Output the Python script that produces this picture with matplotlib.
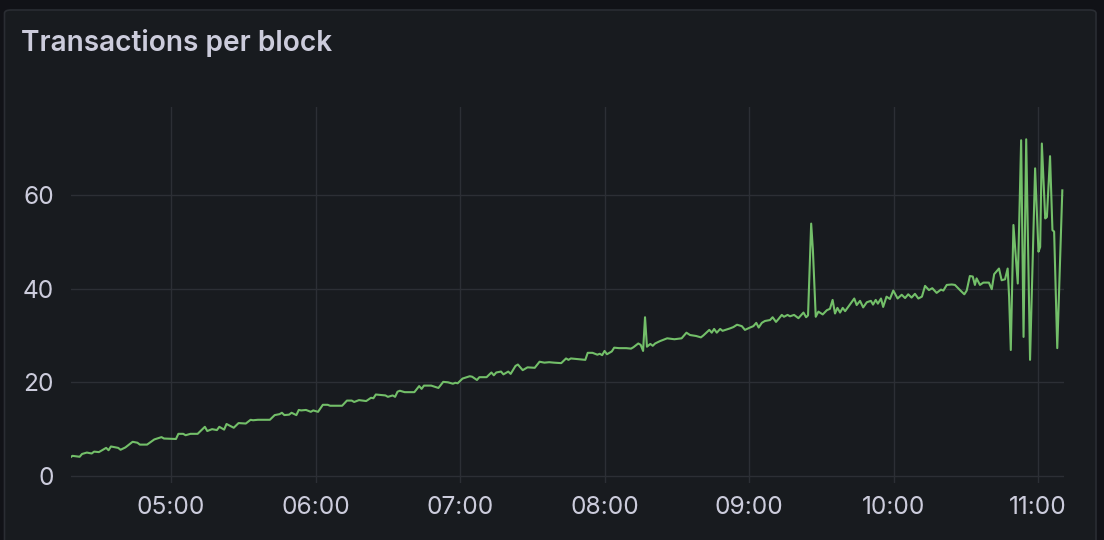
import matplotlib
matplotlib.use("Agg")
import matplotlib.pyplot as plt
from matplotlib.patches import FancyBboxPatch
from datetime import datetime, timedelta

# ---- data ----
title = "Transactions per block"
times = [
    "04:18", "04:19", "04:22", "04:23", "04:25", "04:27", "04:28", "04:30", "04:33", "04:34",
    "04:35", "04:38", "04:39", "04:41", "04:44", "04:46", "04:47", "04:50", "04:53", "04:56",
    "04:57", "05:02", "05:03", "05:05", "05:06", "05:08", "05:11", "05:14", "05:15", "05:17",
    "05:19", "05:20", "05:22", "05:23", "05:26", "05:28", "05:31", "05:33", "05:34", "05:36",
    "05:41", "05:43", "05:45", "05:46", "05:47", "05:49", "05:50", "05:52", "05:53", "05:54",
    "05:56", "05:58", "05:59", "06:01", "06:03", "06:05", "06:06", "06:11", "06:13", "06:15",
    "06:16", "06:18", "06:21", "06:23", "06:24", "06:25", "06:29", "06:30", "06:32", "06:33",
    "06:34", "06:35", "06:37", "06:41", "06:43", "06:44", "06:45", "06:48", "06:51", "06:53",
    "06:55", "06:57", "06:58", "06:59", "07:01", "07:04", "07:05", "07:07", "07:08", "07:11",
    "07:13", "07:14", "07:15", "07:17", "07:18", "07:20", "07:21", "07:23", "07:24", "07:26",
    "07:28", "07:31", "07:33", "07:35", "07:37", "07:39", "07:42", "07:44", "07:45", "07:46",
    "07:48", "07:52", "07:53", "07:55", "07:57", "07:58", "07:59", "08:00", "08:01", "08:03",
    "08:04", "08:06", "08:09", "08:11", "08:12", "08:14", "08:15", "08:16", "08:16.8", "08:17.6",
    "08:19", "08:20", "08:21", "08:23", "08:26", "08:29", "08:32", "08:34", "08:35.5", "08:38",
    "08:40", "08:41", "08:43.5", "08:44.5", "08:45.5", "08:46.6", "08:48", "08:49", "08:52", "08:53.5",
    "08:55", "08:57", "08:58.3", "09:00.4", "09:01.8", "09:03", "09:04", "09:05.3", "09:06.6", "09:08.7",
    "09:09.8", "09:11.2", "09:12.2", "09:13.6", "09:14.5", "09:16", "09:17", "09:18.7", "09:20.5", "09:22.6",
    "09:23.7", "09:24.5", "09:25.8", "09:26.5", "09:27.7", "09:28.8", "09:30.6", "09:32.3", "09:33.6", "09:34.7",
    "09:35.7", "09:36.7", "09:37.8", "09:38.9", "09:39.9", "09:41.6", "09:43.7", "09:44.7", "09:46.1", "09:47.4",
    "09:48.9", "09:50.6", "09:51.5", "09:52.6", "09:53.5", "09:54.8", "09:55.7", "09:57.1", "09:58.5", "09:59.9",
    "10:01.7", "10:03.4", "10:04.8", "10:06.1", "10:07.5", "10:08.9", "10:10.3", "10:11.8", "10:13.1", "10:14.7",
    "10:16.1", "10:17.9", "10:19.7", "10:20.7", "10:22.1", "10:24.2", "10:25.5", "10:27.6", "10:29.4", "10:30.4",
    "10:31.7", "10:32.9", "10:33.8", "10:34.5", "10:35.9", "10:37.3", "10:39.6", "10:40.8", "10:41.8", "10:43.8",
    "10:44.9", "10:46.3", "10:47.4", "10:48", "10:48.7", "10:49.8", "10:51.6", "10:53", "10:54", "10:55.1",
    "10:56.7", "10:58.8", "11:00.2", "11:00.9", "11:01.6", "11:03", "11:03.7", "11:05", "11:06", "11:06.7",
    "11:08", "11:10.1",
]
values = [
    3.9, 4.3, 4.1, 4.7, 5.0, 4.8, 5.2, 5.1, 6.0, 5.5,
    6.3, 6.0, 5.6, 6.1, 7.3, 7.1, 6.7, 6.7, 7.8, 8.3,
    8.0, 7.9, 9.0, 9.0, 8.7, 9.0, 9.0, 10.5, 9.6, 10.0,
    9.8, 10.5, 9.9, 11.1, 10.3, 11.3, 11.2, 12.0, 11.9, 12.0,
    12.0, 13.0, 13.2, 13.5, 13.0, 13.1, 13.5, 13.0, 14.1, 14.0,
    14.1, 13.7, 14.0, 13.7, 15.2, 15.2, 15.0, 15.0, 16.1, 16.1,
    15.8, 16.2, 16.0, 16.7, 16.6, 17.4, 17.2, 16.9, 17.2, 16.9,
    18.0, 18.2, 17.9, 17.9, 19.2, 18.6, 19.3, 19.3, 18.8, 20.1,
    20.0, 19.7, 19.9, 19.8, 20.8, 21.3, 21.2, 20.5, 21.1, 21.1,
    22.1, 21.5, 22.1, 22.3, 21.7, 22.3, 21.8, 23.5, 23.8, 22.6,
    23.2, 23.1, 24.4, 24.2, 24.3, 24.2, 24.1, 25.1, 24.8, 25.1,
    25.0, 24.8, 26.3, 26.3, 25.9, 26.1, 25.8, 26.7, 26.0, 26.6,
    27.4, 27.3, 27.3, 27.2, 27.5, 28.3, 28.0, 26.7, 33.9, 27.6,
    28.2, 27.8, 28.3, 28.8, 29.4, 29.2, 29.4, 30.6, 30.1, 29.9,
    29.6, 30.0, 31.2, 30.6, 31.4, 30.6, 31.4, 31.0, 31.5, 31.8,
    32.3, 32.0, 31.2, 31.7, 32.0, 32.7, 31.7, 32.7, 33.1, 33.3,
    33.9, 32.9, 33.5, 34.4, 34.0, 34.4, 34.1, 34.4, 33.7, 34.9,
    33.9, 34.3, 53.9, 48.4, 34.0, 35.1, 34.5, 35.4, 35.7, 37.6,
    34.7, 35.9, 34.9, 35.9, 35.2, 36.4, 37.9, 36.5, 37.4, 36.0,
    37.1, 37.4, 36.6, 37.6, 36.8, 37.9, 36.1, 38.3, 37.8, 39.6,
    37.9, 38.7, 38.0, 38.8, 38.1, 38.9, 37.9, 38.3, 40.6, 39.7,
    40.1, 39.1, 39.8, 39.6, 40.8, 40.9, 40.8, 39.7, 38.8, 39.6,
    42.7, 42.6, 40.8, 42.2, 40.8, 41.3, 41.3, 39.9, 43.1, 44.3,
    41.8, 42.0, 44.3, 38.3, 26.9, 53.6, 41.1, 71.7, 29.7, 71.9,
    24.8, 65.7, 47.9, 48.9, 71.0, 55.0, 55.3, 68.3, 52.5, 52.2,
    27.3, 61.0,
]
y_ticks = [0, 20, 40, 60]
x_tick_labels = ["05:00", "06:00", "07:00", "08:00", "09:00", "10:00", "11:00"]

# ---- parse ----
base = datetime(2024, 1, 1)

def parse(s):
    h, m = s.split(":")
    return base + timedelta(hours=int(h), minutes=float(m))

tx = [parse(s) for s in times]
xt = [parse(s) for s in x_tick_labels]

# ---- style ----
OUTER = "#111217"
PANEL = "#181b1f"
BORDER = "#2a2d33"
TEXT = "#ccccdc"
GRID = "#2c2f35"
LINE = "#73bf69"

W, H = 1104, 540
fig = plt.figure(figsize=(W / 100, H / 100), dpi=100, facecolor=OUTER)

panel = FancyBboxPatch((4.5 / W, -20 / H), (1096 - 4.5) / W, (530 + 20) / H,
                       boxstyle="round,pad=0,rounding_size=0.006",
                       transform=fig.transFigure, facecolor=PANEL, edgecolor=BORDER,
                       linewidth=1.2, zorder=-10)
fig.patches.append(panel)

fig.text(21 / W, 1 - 43 / H, title, color=TEXT, fontsize=20.2, fontfamily="Inter",
         fontweight="semibold", va="center", ha="left")

left, right, top, bottom = 70.5, 1064, 107, 483
ax = fig.add_axes([left / W, 1 - bottom / H, (right - left) / W, (bottom - top) / H])
ax.set_facecolor("none")
ax.set_zorder(5)
ax.plot(tx, values, color=LINE, linewidth=1.5, solid_joinstyle="round", zorder=3)

ax.set_xlim(parse("04:18.2"), parse("11:10.8"))
ax.set_ylim(-1.5, 78.8)
ax.set_yticks(y_ticks)
ax.set_xticks(xt)
ax.set_xticklabels(x_tick_labels)
ax.set_yticklabels([str(v) for v in y_ticks])

for s in ax.spines.values():
    s.set_visible(False)
ax.tick_params(axis="both", length=0, colors=TEXT, labelsize=17.6)
ax.tick_params(axis="y", pad=12)
ax.tick_params(axis="x", pad=9)
for lbl in ax.get_xticklabels() + ax.get_yticklabels():
    lbl.set_fontfamily("Inter")
ax.grid(True, color=GRID, linewidth=1.0)
ax.set_axisbelow(True)

fig.savefig("out.png", dpi=100, facecolor=OUTER)
